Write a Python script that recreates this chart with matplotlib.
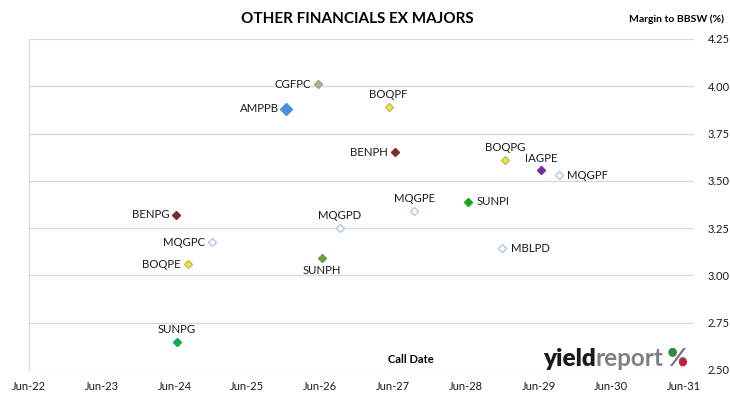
import matplotlib
matplotlib.use("Agg")
import matplotlib.pyplot as plt
import matplotlib.dates as mdates
from matplotlib.patches import Ellipse
from matplotlib.textpath import TextPath
from matplotlib.font_manager import FontProperties
from datetime import date, timedelta

plt.rcParams['font.family'] = ['Lato', 'DejaVu Sans']

# ---- data ----
names = ["CGFPC", "AMPPB", "BOQPF", "BENPH", "BOQPG", "IAGPE", "MQGPF", "MQGPE",
         "SUNPI", "BENPG", "MQGPD", "MQGPC", "MBLPD", "SUNPH", "BOQPE", "SUNPG"]
call_dates = ["2026-06-19", "2026-01-10", "2027-06-08", "2027-07-11", "2029-01-12",
              "2029-07-11", "2029-10-10", "2027-10-14", "2028-07-11", "2024-07-07",
              "2026-10-07", "2025-01-05", "2028-12-29", "2026-07-07", "2024-09-04",
              "2024-07-11"]
margins = [4.01, 3.88, 3.89, 3.65, 3.61, 3.555, 3.53, 3.34,
           3.39, 3.32, 3.25, 3.175, 3.145, 3.09, 3.06, 2.65]
x_tick_years = list(range(2022, 2032))
y_ticks = [2.50, 2.75, 3.00, 3.25, 3.50, 3.75, 4.00, 4.25]

# ---- styles ----
fills = {"CGFPC": "#A8BF86", "AMPPB": "#4A8FDB", "BOQPF": "#F0F000", "BENPH": "#7B2B2B",
         "BOQPG": "#F0F000", "IAGPE": "#7030A0", "MQGPF": "white", "MQGPE": "white",
         "SUNPI": "#19A919", "BENPG": "#7B2B2B", "MQGPD": "white", "MQGPC": "white",
         "MBLPD": "white", "SUNPH": "#6AA046", "BOQPE": "#F0F000", "SUNPG": "#00B050"}
edges = {"CGFPC": "#9AA58E", "AMPPB": "#4A8FDB", "BOQPF": "#B8B890", "BENPH": "#7B2B2B",
         "BOQPG": "#B8B890", "IAGPE": "#7030A0", "MQGPF": "#B4C6E7", "MQGPE": "#B4C6E7",
         "SUNPI": "#19A919", "BENPG": "#7B2B2B", "MQGPD": "#B4C6E7", "MQGPC": "#B4C6E7",
         "MBLPD": "#B4C6E7", "SUNPH": "#6AA046", "BOQPE": "#B8B890", "SUNPG": "#00B050"}
sizes = {"AMPPB": 6.2}
label_pos = {"CGFPC": "left", "AMPPB": "left", "BOQPF": "above", "BENPH": "left",
             "BOQPG": "above", "IAGPE": "above", "MQGPF": "right", "MQGPE": "above",
             "SUNPI": "right", "BENPG": "left", "MQGPD": "above", "MQGPC": "left",
             "MBLPD": "right", "SUNPH": "below", "BOQPE": "left", "SUNPG": "above"}

fig = plt.figure(figsize=(7.30, 3.99), dpi=100)
ax = fig.add_axes([29/730, 1-370/399, (694-29)/730, (370-39)/399])

xdates = [date.fromisoformat(d) for d in call_dates]
for n, d, m in zip(names, xdates, margins):
    ax.plot([d], [m], marker="D", linestyle="none",
            markersize=sizes.get(n, 4.3), markerfacecolor=fills[n],
            markeredgecolor=edges[n], markeredgewidth=1.0, zorder=3)
    pos = label_pos[n]
    if pos == "left":
        off, ha, va = (-5, 0), "right", "center"
    elif pos == "right":
        off, ha, va = (6, 0), "left", "center"
    elif pos == "above":
        off, ha, va = (0, 5), "center", "bottom"
    else:
        off, ha, va = (0, -5), "center", "top"
    ax.annotate(n, (d, m), xytext=off, textcoords="offset points",
                ha=ha, va=va, fontsize=8.2, color="#1a1a1a")

x0 = date(2022, 6, 30)
ax.set_xlim(x0, x0 + timedelta(days=9.135 * 365.25))
ax.set_xticks([date(y, 6, 30) for y in x_tick_years])
ax.xaxis.set_major_formatter(mdates.DateFormatter("%b-%y"))
ax.set_ylim(2.5, 4.25)
ax.set_yticks(y_ticks)
ax.set_yticklabels([f"{v:.2f}" for v in y_ticks])
ax.yaxis.tick_right()
ax.tick_params(axis="both", length=0, labelsize=8, colors="#1a1a1a")
ax.tick_params(axis="y", pad=10)
ax.tick_params(axis="x", pad=8)
ax.grid(axis="y", color="#D9D9D9", linewidth=1)
ax.set_axisbelow(True)
for s in ["top", "right", "bottom"]:
    ax.spines[s].set_visible(False)
ax.spines["left"].set_color("#D9D9D9")

fig.text(357/730, 1-19/399, "OTHER FINANCIALS EX MAJORS", ha="center", va="center",
         fontsize=11, fontweight="bold")
fig.text(724/730, 1-19/399, "Margin to BBSW (%)", ha="right", va="center",
         fontsize=7.5, fontweight="bold")
ax.text(0.575, 0.015, "Call Date", transform=ax.transAxes, ha="center", va="bottom",
        fontsize=8, fontweight="bold")

# logo
fs = 17.5
base_y = 366
fig.canvas.draw()
r = fig.canvas.get_renderer()
t1 = fig.text(543/730, 1-base_y/399, "yield", fontsize=fs, fontweight="heavy",
              color="#1a1a1a", ha="left", va="baseline")
bb = t1.get_window_extent(r)
t2 = fig.text(bb.x1/730, 1-base_y/399, "report", fontsize=fs, fontweight="bold",
              color="#808080", ha="left", va="baseline")
bb2 = t2.get_window_extent(r)
px0 = bb2.x1 + 4
t3 = fig.text(px0/730, 1-base_y/399, "%", fontsize=fs, fontweight="bold",
              color="#777777", ha="left", va="baseline")
fp = FontProperties(family=['Lato'], weight="bold", size=fs)
ext = TextPath((0, 0), "%", size=fs, prop=fp).get_extents()
k = 100/72
gx0 = px0 + ext.x0 * k
gy0 = (399 - base_y) + ext.y0 * k
gw = ext.width * k
gh = ext.height * k
for fx, fy, c in [(0.2, 0.78, "#2E8B3E"), (0.8, 0.22, "#C0203A")]:
    e = Ellipse(((gx0 + fx * gw) / 730, (gy0 + fy * gh) / 399),
                width=0.42 * gw / 730, height=0.46 * gh / 399,
                transform=fig.transFigure, facecolor=c, edgecolor="none", zorder=5)
    fig.patches.append(e)

fig.savefig("out.png", dpi=100)
